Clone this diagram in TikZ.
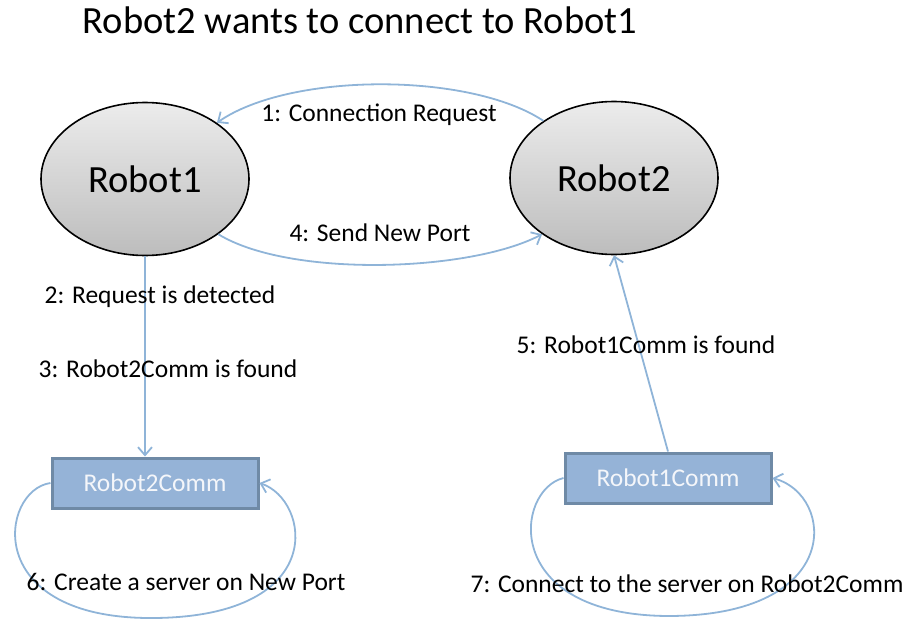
\documentclass[tikz,border=0pt]{standalone}
\usepackage{fontspec}
\setmainfont{Carlito}
\usetikzlibrary{shapes.geometric,arrows.meta}
\definecolor{flow}{HTML}{8FB4D8}
\definecolor{commfill}{HTML}{95B3D7}
\definecolor{commedge}{HTML}{6F8AA6}
\definecolor{commtext}{HTML}{F4F6FA}
\begin{document}
\begin{tikzpicture}[x=1pt,y=-1pt,
  robot/.style={ellipse,draw=black,line width=1.6pt,top color=gray!15,bottom color=gray!52,
    minimum width=208pt,minimum height=153pt,inner sep=0pt,font=\fontsize{38.5}{40}\selectfont},
  comm/.style={rectangle,draw=commedge,line width=3pt,fill=commfill,minimum width=206pt,
    minimum height=50pt,inner sep=0pt,text=commtext,font=\fontsize{25.5}{28}\selectfont},
  msg/.style={anchor=base,inner sep=0pt,font=\fontsize{25.5}{28}\selectfont},
  flowline/.style={draw=flow,line width=1.8pt,-{Straight Barb[length=8pt,width=14pt]}}]
\useasboundingbox (0,0) rectangle (908,621);

% title
\node[anchor=base,inner sep=0pt,font=\fontsize{38.5}{40}\selectfont] (title) at (360,34)
  {Robot2 wants to connect to Robot1};

% robots and their comm objects
\node[robot] (r1) at (145,179) {Robot1};
\node[robot] (r2) at (614,178) {Robot2};
\node[comm] (c2) at (155,483) {Robot2Comm};
\node[comm] (c1) at (668,478) {Robot1Comm};

% message flow
\draw[flowline] (r2.141) .. controls (470,72) and (290,72) .. (r1.38);
\draw[flowline] (r1.-37) .. controls (290,278) and (470,272) .. (r2.-142);
\draw[flowline] (r1.south) -- (r1.south |- c2.north);
\draw[flowline] (c1.north) -- (r2.south);
\draw[flowline] (c2.west) .. controls (0,490) and (-20,620) .. (155,618)
  .. controls (330,616) and (310,500) .. (c2.east);
\draw[flowline] (c1.west) .. controls (515,490) and (500,615) .. (668,616)
  .. controls (845,616) and (835,495) .. (c1.east);

% step labels
\node[msg] (l1) at (379,121) {1: Connection Request};
\node[msg] (l2) at (160,303) {2: Request is detected};
\node[msg] (l3) at (168,377) {3: Robot2Comm is found};
\node[msg] (l4) at (380,241) {4: Send New Port};
\node[msg] (l5) at (646,353) {5: Robot1Comm is found};
\node[msg] (l6) at (186,590) {6: Create a server on New Port};
\node[msg] (l7) at (687,592) {7: Connect to the server on Robot2Comm};
\end{tikzpicture}
\end{document}
